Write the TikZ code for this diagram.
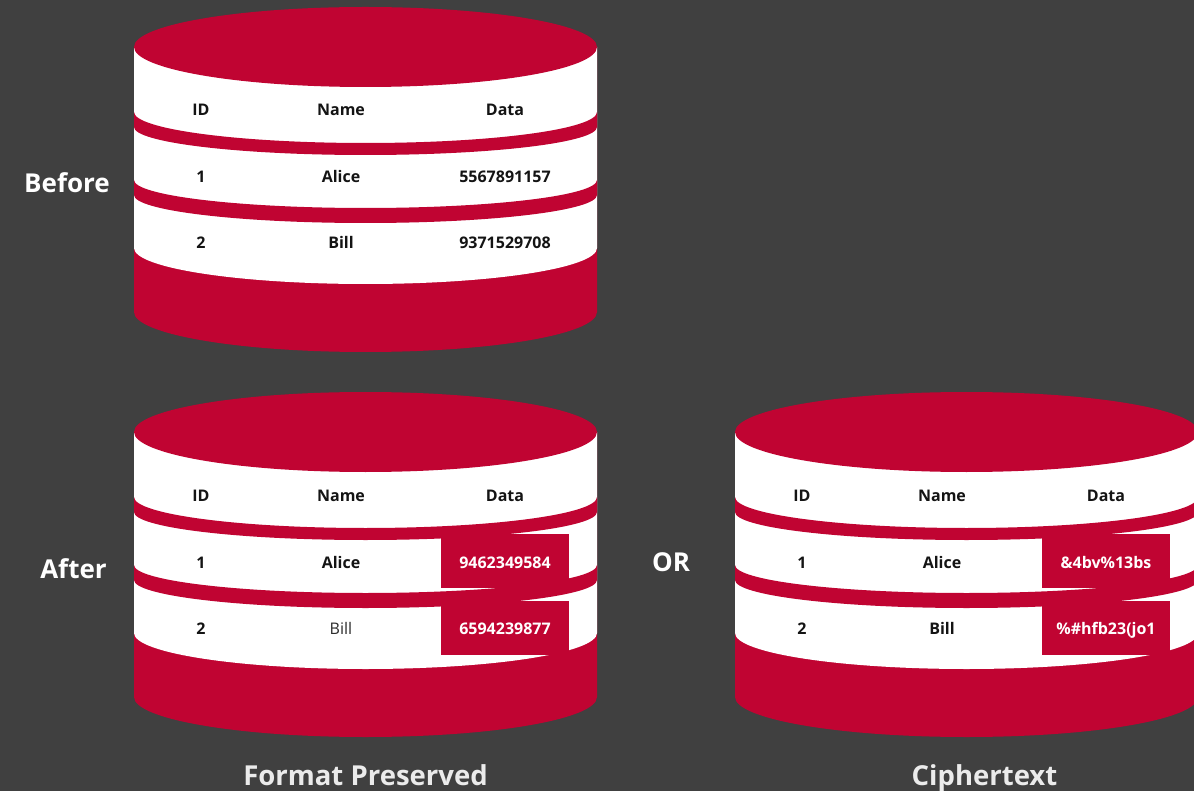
\documentclass[tikz,border=0pt]{standalone}
\usepackage{fontspec}
\setmainfont{Open Sans}
\definecolor{bg}{RGB}{64,64,64}
\definecolor{dbred}{RGB}{192,4,50}
\definecolor{txt}{RGB}{20,20,20}
\tikzset{
  cell/.style={anchor=base,inner sep=0pt,font=\fontsize{16}{16}\selectfont\bfseries,text=txt},
  celllight/.style={anchor=base,inner sep=0pt,font=\fontsize{16}{16}\selectfont,text=txt!90},
  boxtext/.style={anchor=base,inner sep=0pt,font=\fontsize{16}{16}\selectfont\bfseries,text=white},
  databox/.style={fill=dbred,draw=none,minimum width=128pt,minimum height=54pt,inner sep=0pt},
  label/.style={anchor=base,inner sep=0pt,font=\fontsize{26}{26}\selectfont\bfseries,text=white},
  caption/.style={anchor=base,inner sep=0pt,font=\fontsize{27.5}{27.5}\selectfont\bfseries,text=white!92!black},
}
\newcommand\dbcyl[2]{%
\begin{scope}[shift={(#1,#2)}]
 \fill[dbred] (-231.5,0) -- (-231.5,265) arc[start angle=180,end angle=0,x radius=231.5,y radius=40] -- (231.5,0) -- cycle;
 \fill[white] (-231.5,0) -- (-231.5,201) arc[start angle=180,end angle=0,x radius=231.5,y radius=36] -- (231.5,0) -- cycle;
 \fill[dbred] (-231.5,65) arc[start angle=180,end angle=0,x radius=231.5,y radius=31] -- (231.5,80) arc[start angle=0,end angle=180,x radius=231.5,y radius=28] -- cycle;
 \fill[dbred] (-231.5,133) arc[start angle=180,end angle=0,x radius=231.5,y radius=28] -- (231.5,148) arc[start angle=0,end angle=180,x radius=231.5,y radius=28] -- cycle;
 \fill[dbred] (0,0) ellipse[x radius=231.5,y radius=40];
\end{scope}}
\begin{document}
\begin{tikzpicture}[x=1pt,y=-1pt]
\fill[bg] (0,0) rectangle (1194,791);
\useasboundingbox (0,0) rectangle (1194,791);
\clip (0,0) rectangle (1194,791);
% cylinders
\dbcyl{365.5}{47}
\dbcyl{365.5}{432}
\dbcyl{966.5}{432}
% before table
\node[cell] (bh1) at (201,116) {ID};
\node[cell] (bh2) at (341,116) {Name};
\node[cell] (bh3) at (505,116) {Data};
\node[cell] (br11) at (201,183) {1};
\node[cell] (br12) at (341,183) {Alice};
\node[cell] (br13) at (505,183) {5567891157};
\node[cell] (br21) at (201,249) {2};
\node[cell] (br22) at (341,249) {Bill};
\node[cell] (br23) at (505,249) {9371529708};
% after table (format preserved)
\node[cell] (ah1) at (201,501) {ID};
\node[cell] (ah2) at (341,501) {Name};
\node[cell] (ah3) at (505,501) {Data};
\node[cell] (ar11) at (201,568) {1};
\node[cell] (ar12) at (341,568) {Alice};
\node[databox] (ab1) at (505,561) {};
\node[boxtext] (ar13) at (505,568) {9462349584};
\node[cell] (ar21) at (201,634) {2};
\node[celllight] (ar22) at (341,634) {Bill};
\node[databox] (ab2) at (505,627.5) {};
\node[boxtext] (ar23) at (505,634) {6594239877};
% after table (ciphertext)
\node[cell] (ch1) at (802,501) {ID};
\node[cell] (ch2) at (942,501) {Name};
\node[cell] (ch3) at (1106,501) {Data};
\node[cell] (cr11) at (802,568) {1};
\node[cell] (cr12) at (942,568) {Alice};
\node[databox] (cb1) at (1106,561) {};
\node[boxtext] (cr13) at (1106,568) {\&4bv\%13bs};
\node[cell] (cr21) at (802,634) {2};
\node[cell] (cr22) at (942,634) {Bill};
\node[databox] (cb2) at (1106,627.5) {};
\node[boxtext] (cr23) at (1106,634) {\%\#hfb23(jo1};
% labels
\node[label] (lbefore) at (67,193) {Before};
\node[label] (lafter) at (73.5,578) {After};
\node[label] (lor) at (671,571) {OR};
\node[caption] (lfp) at (365.5,785) {Format Preserved};
\node[caption] (lct) at (984.5,785) {Ciphertext};
\end{tikzpicture}
\end{document}
